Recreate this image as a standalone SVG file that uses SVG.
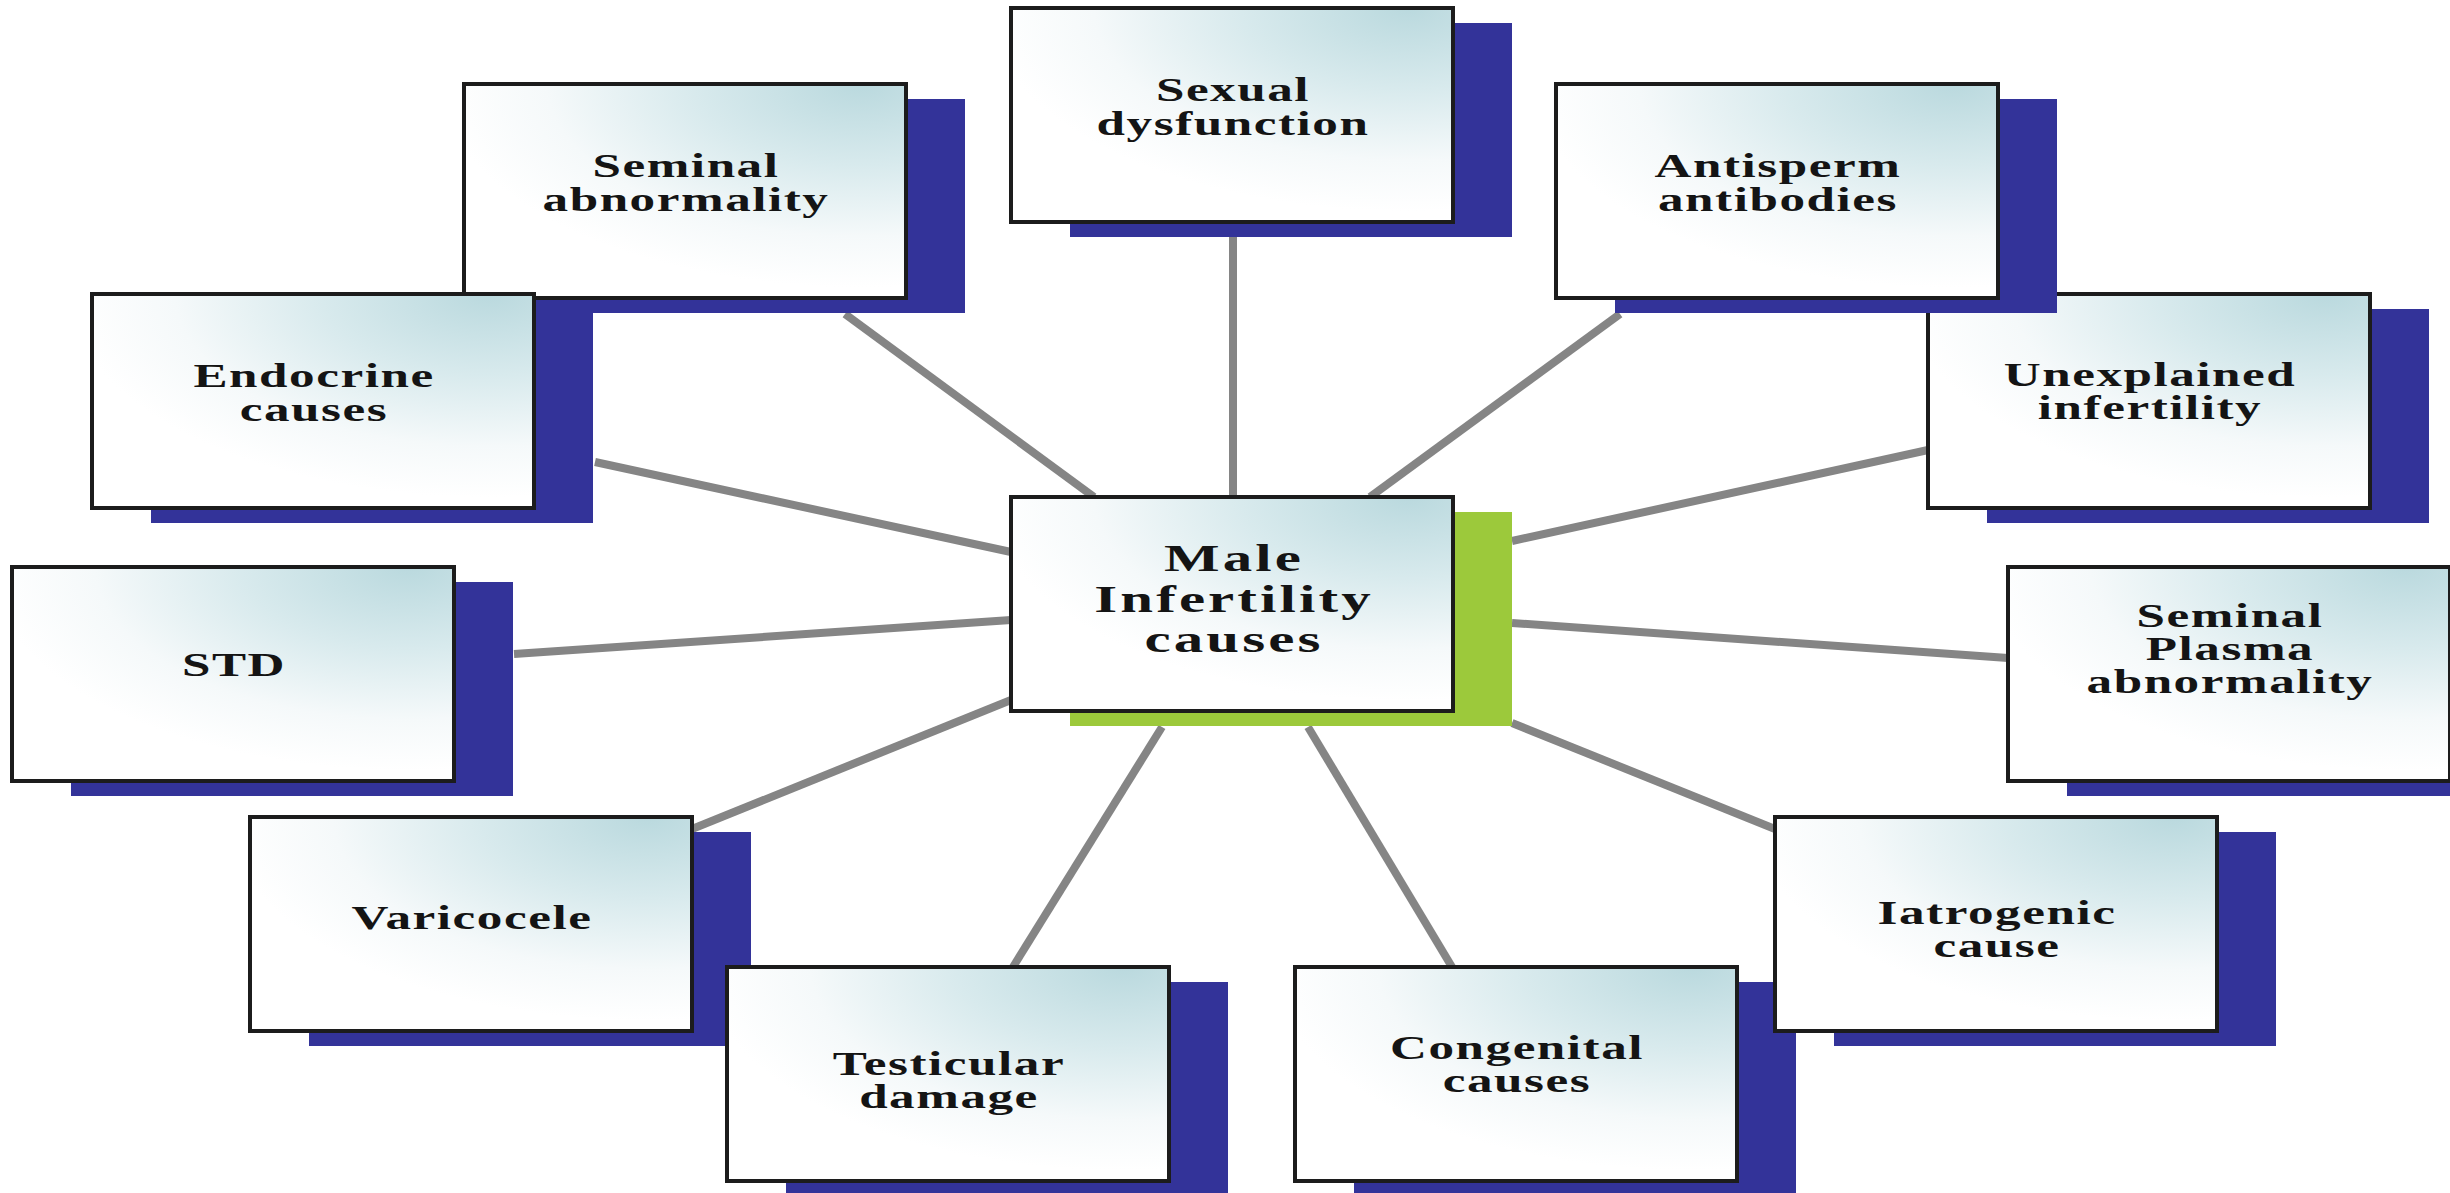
<svg xmlns="http://www.w3.org/2000/svg" width="2450" height="1193" viewBox="0 0 2450 1193">
<defs>
<radialGradient id="boxfill" cx="0.9" cy="0" r="0.95" fx="0.9" fy="0">
<stop offset="0" stop-color="#bad9de"/>
<stop offset="0.4" stop-color="#d8eaed"/>
<stop offset="0.75" stop-color="#f5f9fa"/>
<stop offset="1" stop-color="#ffffff"/>
</radialGradient>
<style>
.box{fill:url(#boxfill);stroke:#1c1c1c;stroke-width:4}
.shadow{fill:#333399}
.green{fill:#9cc93b}
.conn{stroke:#858585;stroke-width:8;stroke-linecap:butt;fill:none}
.lbl{font-family:"Liberation Serif","Times New Roman",serif;font-weight:bold;font-size:33px;fill:#141414;text-anchor:middle;letter-spacing:1px}
.big{font-size:38px;letter-spacing:2px}
</style>
</defs>
<rect width="2450" height="1193" fill="#ffffff"/>
<g id="connectors">
<line class="conn" x1="1233" y1="222" x2="1233" y2="497"/>
<line class="conn" x1="845" y1="314" x2="1094" y2="497"/>
<line class="conn" x1="1620" y1="314" x2="1370" y2="497"/>
<line class="conn" x1="595" y1="462" x2="1011" y2="552"/>
<line class="conn" x1="1928" y1="450" x2="1512" y2="541"/>
<line class="conn" x1="514" y1="654" x2="1011" y2="620"/>
<line class="conn" x1="1512" y1="623" x2="2008" y2="658"/>
<line class="conn" x1="692" y1="829" x2="1011" y2="700"/>
<line class="conn" x1="1512" y1="723" x2="1775" y2="829"/>
<line class="conn" x1="1013" y1="967" x2="1162" y2="727"/>
<line class="conn" x1="1452" y1="967" x2="1308" y2="727"/>
</g>
<g id="node-sexual">
<rect class="shadow" x="1070" y="23" width="442" height="214"/>
<rect class="box" x="1011" y="8" width="442" height="214"/>
<text class="lbl" transform="translate(1233,0) scale(1.55,1)"><tspan x="0" y="101">Sexual</tspan><tspan x="0" y="135">dysfunction</tspan></text>
</g>
<g id="node-seminal">
<rect class="shadow" x="523" y="99" width="442" height="214"/>
<rect class="box" x="464" y="84" width="442" height="214"/>
<text class="lbl" transform="translate(686,0) scale(1.55,1)"><tspan x="0" y="177">Seminal</tspan><tspan x="0" y="211">abnormality</tspan></text>
</g>
<g id="node-endocrine">
<rect class="shadow" x="151" y="309" width="442" height="214"/>
<rect class="box" x="92" y="294" width="442" height="214"/>
<text class="lbl" transform="translate(314,0) scale(1.55,1)"><tspan x="0" y="387">Endocrine</tspan><tspan x="0" y="421">causes</tspan></text>
</g>
<g id="node-unexplained">
<rect class="shadow" x="1987" y="309" width="442" height="214"/>
<rect class="box" x="1928" y="294" width="442" height="214"/>
<text class="lbl" transform="translate(2150,0) scale(1.55,1)"><tspan x="0" y="386">Unexplained</tspan><tspan x="0" y="419">infertility</tspan></text>
</g>
<g id="node-antisperm">
<rect class="shadow" x="1615" y="99" width="442" height="214"/>
<rect class="box" x="1556" y="84" width="442" height="214"/>
<text class="lbl" transform="translate(1778,0) scale(1.55,1)"><tspan x="0" y="177">Antisperm</tspan><tspan x="0" y="211">antibodies</tspan></text>
</g>
<g id="node-std">
<rect class="shadow" x="71" y="582" width="442" height="214"/>
<rect class="box" x="12" y="567" width="442" height="214"/>
<text class="lbl" transform="translate(234,0) scale(1.55,1)"><tspan x="0" y="676">STD</tspan></text>
</g>
<g id="node-plasma">
<rect class="shadow" x="2067" y="582" width="442" height="214"/>
<rect class="box" x="2008" y="567" width="442" height="214"/>
<text class="lbl" transform="translate(2230,0) scale(1.55,1)"><tspan x="0" y="627">Seminal</tspan><tspan x="0" y="660">Plasma</tspan><tspan x="0" y="693">abnormality</tspan></text>
</g>
<g id="node-varicocele">
<rect class="shadow" x="309" y="832" width="442" height="214"/>
<rect class="box" x="250" y="817" width="442" height="214"/>
<text class="lbl" transform="translate(472,0) scale(1.55,1)"><tspan x="0" y="929">Varicocele</tspan></text>
</g>
<g id="node-testicular">
<rect class="shadow" x="786" y="982" width="442" height="214"/>
<rect class="box" x="727" y="967" width="442" height="214"/>
<text class="lbl" transform="translate(949,0) scale(1.55,1)"><tspan x="0" y="1075">Testicular</tspan><tspan x="0" y="1108">damage</tspan></text>
</g>
<g id="node-congenital">
<rect class="shadow" x="1354" y="982" width="442" height="214"/>
<rect class="box" x="1295" y="967" width="442" height="214"/>
<text class="lbl" transform="translate(1517,0) scale(1.55,1)"><tspan x="0" y="1059">Congenital</tspan><tspan x="0" y="1092">causes</tspan></text>
</g>
<g id="node-iatrogenic">
<rect class="shadow" x="1834" y="832" width="442" height="214"/>
<rect class="box" x="1775" y="817" width="442" height="214"/>
<text class="lbl" transform="translate(1997,0) scale(1.55,1)"><tspan x="0" y="924">Iatrogenic</tspan><tspan x="0" y="957">cause</tspan></text>
</g>
<g id="node-center">
<rect class="green" x="1070" y="512" width="442" height="214"/>
<rect class="box" x="1011" y="497" width="442" height="214"/>
<text class="lbl big" transform="translate(1234,0) scale(1.55,1)"><tspan x="0" y="571">Male</tspan><tspan x="0" y="612">Infertility</tspan><tspan x="0" y="652">causes</tspan></text>
</g>
</svg>
